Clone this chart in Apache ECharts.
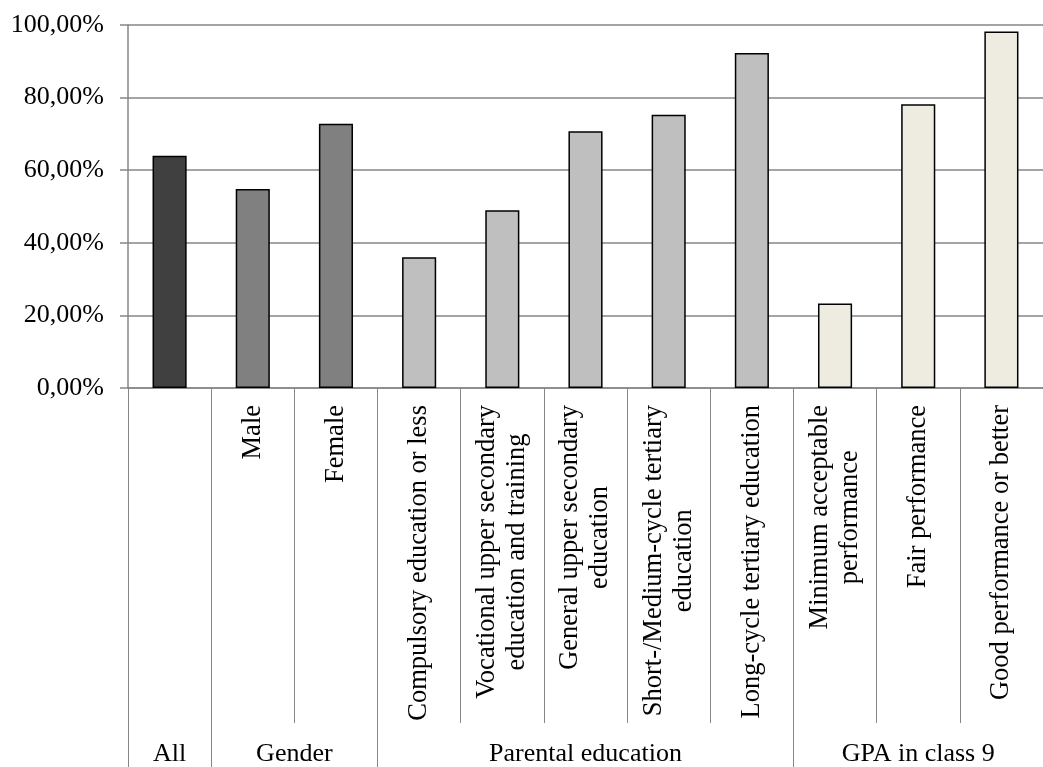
<!DOCTYPE html>
<html>
<head>
<meta charset="utf-8">
<title>Share by background</title>
<script src="https://cdn.jsdelivr.net/npm/echarts@6/dist/echarts.min.js"></script>
<style>
  html, body { margin: 0; padding: 0; background: #ffffff; }
  #chart { width: 1043px; height: 767px; }
</style>
</head>
<body>
<div id="chart"></div>
<script>
// Category labels (lines separated by \n); the overall bar has no own label
const categories = [
  '',
  'Male',
  'Female',
  'Compulsory education or less',
  'Vocational upper secondary\neducation and training',
  'General upper secondary\neducation',
  'Short-/Medium-cycle tertiary\neducation',
  'Long-cycle tertiary education',
  'Minimum acceptable\nperformance',
  'Fair performance',
  'Good performance or better'
];

// Share in percent
const values = [64.0, 54.8, 72.8, 36.0, 49.0, 70.7, 75.3, 92.3, 23.3, 78.2, 98.2];

// Groups of categories, in order, with their sizes and fill colours
const groupNames = ['All', 'Gender', 'Parental education', 'GPA in class 9'];
const groupSizes = [1, 2, 5, 3];
const groupColors = ['#404040', '#808080', '#bfbfbf', '#eeece1'];

// Y axis ticks
const yTicks = [0, 20, 40, 60, 80, 100];

const gridColor = '#868686';
const serif = '"Liberation Serif", "DejaVu Serif", serif';

// group boundaries and centres, in category units
const boundaries = [0];
groupSizes.forEach(s => boundaries.push(boundaries[boundaries.length - 1] + s));
const centers = groupSizes.map((s, i) => boundaries[i] + s / 2);
const groupOf = [];
groupSizes.forEach((s, g) => { for (let k = 0; k < s; k++) groupOf.push(g); });

const barData = values.map((v, i) => ({
  value: v,
  itemStyle: { color: groupColors[groupOf[i]] }
}));

const chart = echarts.init(document.getElementById('chart'), null, { renderer: 'canvas' });

chart.setOption({
  animation: false,
  grid: { left: 128, top: 25, width: 917, bottom: 379, containLabel: false },
  xAxis: [
    {
      type: 'category',
      data: categories,
      boundaryGap: true,
      axisLine: { show: true, lineStyle: { color: gridColor, width: 1.5 } },
      axisTick: { show: true, length: 335, interval: 0, lineStyle: { color: gridColor, width: 1 } },
      axisLabel: {
        interval: 0,
        rotate: 90,
        margin: 17,
        formatter: (v) => v.split('\n').map(l => '{c|' + l + '}').join('\n'),
        rich: {
          c: { align: 'center', fontFamily: serif, fontSize: 26.5, lineHeight: 30, color: '#000' }
        }
      }
    },
    {
      type: 'value',
      min: 0,
      max: boundaries[boundaries.length - 1],
      position: 'bottom',
      axisLine: { show: false },
      splitLine: { show: false },
      axisTick: {
        show: true,
        length: 380,
        customValues: boundaries,
        lineStyle: { color: gridColor, width: 1 }
      },
      axisLabel: {
        customValues: centers,
        margin: 353,
        fontFamily: serif,
        fontSize: 26,
        color: '#000',
        formatter: (v) => groupNames[centers.indexOf(v)] || ''
      }
    }
  ],
  yAxis: {
    type: 'value',
    min: yTicks[0],
    max: yTicks[yTicks.length - 1],
    interval: yTicks[1] - yTicks[0],
    axisLine: { show: true, lineStyle: { color: gridColor, width: 1.5 } },
    axisTick: { show: true, length: 8, lineStyle: { color: gridColor, width: 1.5 } },
    splitLine: { show: true, lineStyle: { color: gridColor, width: 1.5 } },
    axisLabel: {
      margin: 24,
      fontFamily: serif,
      fontSize: 26,
      color: '#000',
      formatter: (v) => v.toFixed(2).replace('.', ',') + '%'
    }
  },
  series: [
    {
      type: 'bar',
      xAxisIndex: 0,
      data: barData,
      barWidth: '41%',
      itemStyle: { borderColor: '#000', borderWidth: 1.5 }
    }
  ]
});
</script>
</body>
</html>
